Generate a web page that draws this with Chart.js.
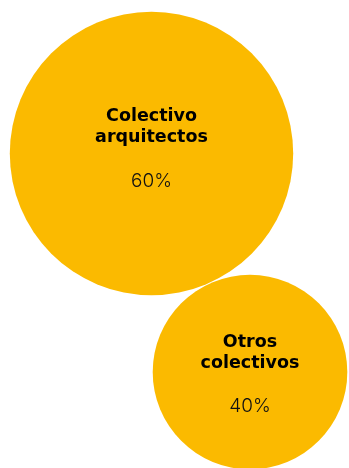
<!DOCTYPE html>
<html>
<head>
<meta charset="utf-8">
<script src="https://cdn.jsdelivr.net/npm/chart.js@4/dist/chart.umd.min.js"></script>
<style>
html,body{margin:0;padding:0;background:#fff;}
#wrap{width:349px;height:468px;position:relative;}
</style>
</head>
<body>
<div id="wrap"><canvas id="c" width="349" height="468"></canvas></div>
<script>
const categories = [["Colectivo", "arquitectos"], ["Otros", "colectivos"]];
const values = [60, 40];
const valueLabels = ["60%", "40%"];

const data = categories.map((c, i) => ({ x: i, y: i, v: values[i] }));

const labelPlugin = {
  id: 'bubbleLabels',
  afterDatasetsDraw(chart) {
    const ctx = chart.ctx;
    const meta = chart.getDatasetMeta(0);
    meta.data.forEach((el, i) => {
      const cx = el.x;
      const r = el.options.radius;
      const mid = el.y + 17.3 - 0.157 * r;
      ctx.save();
      ctx.fillStyle = '#000';
      ctx.textAlign = 'center';
      ctx.textBaseline = 'middle';
      ctx.font = 'bold 17.5px "DejaVu Sans", sans-serif';
      const lines = categories[i];
      ctx.fillText(lines[0], cx, mid - 32);
      ctx.fillText(lines[1], cx, mid - 11);
      ctx.font = '300 19px Inter, "Open Sans", sans-serif';
      ctx.fillStyle = '#111';
      ctx.fillText(valueLabels[i], cx, mid + 32.5);
      ctx.restore();
    });
  }
};

new Chart(document.getElementById('c'), {
  type: 'bubble',
  data: {
    datasets: [{
      data: data,
      backgroundColor: '#FBBA00',
      hoverBackgroundColor: '#FBBA00',
      borderWidth: 0,
      radius: (ctx) => ctx.raw ? 2.22 * ctx.raw.v + 8.5 : 0
    }]
  },
  options: {
    responsive: false,
    animation: false,
    layout: { padding: 0, autoPadding: false },
    plugins: { legend: { display: false }, tooltip: { enabled: false } },
    scales: {
      x: { type: 'linear', display: false, min: -1.538, max: 2.005 },
      y: { type: 'linear', display: false, reverse: true, min: -0.7025, max: 1.439 }
    },
    clip: false
  },
  plugins: [labelPlugin]
});
</script>
</body>
</html>
